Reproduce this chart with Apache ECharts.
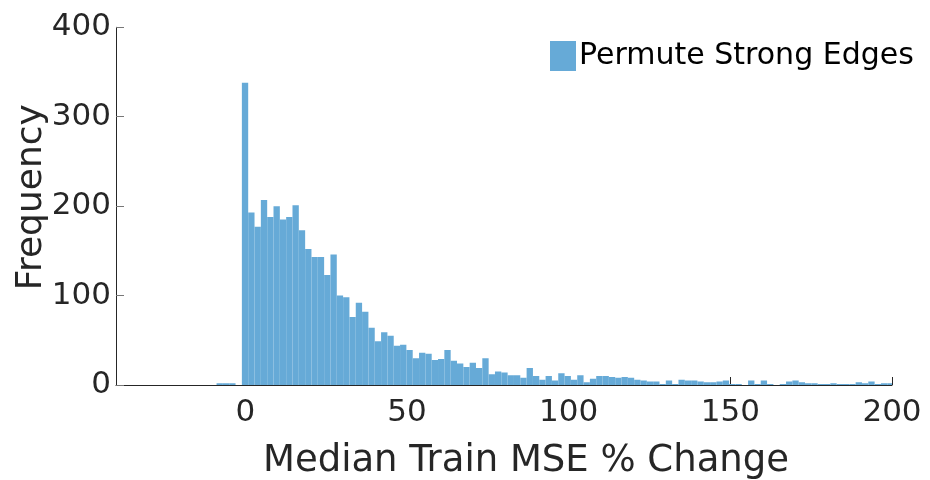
<!DOCTYPE html>
<html>
<head>
<meta charset="utf-8">
<script src="https://cdn.jsdelivr.net/npm/echarts@6/dist/echarts.min.js"></script>
<style>
html,body{margin:0;padding:0;background:#fff;}
#chart{width:930px;height:480px;}
</style>
</head>
<body>
<div id="chart"></div>
<script>
// Histogram bins: first left edge and bin width (in % change units)
const binStart = -8.9;
const binWidth = 1.957;
// Frequency per bin
const counts = [
  2, 2, 2, 0,
  338, 193, 177, 207, 188, 200, 185, 188, 201, 173, 152, 143, 143, 123, 146, 100, 98, 76, 92, 82, 64, 49,
  59, 55, 44, 45, 39, 30, 36, 35, 28, 29, 39, 27, 24, 20, 25, 19, 30, 12, 15, 14, 11, 11, 8, 19, 10,
  6, 10, 5, 13, 10, 6, 11, 3, 7, 10, 10, 9, 8, 9, 8, 6,
  5, 4, 4, 1, 5, 1, 6, 5, 5, 4, 3, 3, 4, 5,
  1, 1, 0, 5, 1, 5, 1, 0, 1, 4, 5, 3, 2, 2, 1, 1, 2, 1, 1, 1, 3, 2, 4, 1, 2, 2
];
const xTicks = [0, 50, 100, 150, 200];
const yTicks = [0, 100, 200, 300, 400];
const seriesName = 'Permute Strong Edges';
const xLabel = 'Median Train MSE % Change';
const yLabel = 'Frequency';

const xMin = -40, xMax = 200;
const barData = counts.map((c, i) => [binStart + i * binWidth, binStart + (i + 1) * binWidth, c]);

const chart = echarts.init(document.getElementById('chart'), null, {renderer: 'canvas'});
const axisColor = '#262626';
const font = 'DejaVu Sans';

chart.setOption({
  animation: false,
  backgroundColor: '#fff',
  grid: {left: 116, right: 38, top: 27.3, bottom: 95, containLabel: false, outerBoundsMode: 'none'},
  legend: {
    left: 550, top: 41, padding: 0,
    itemWidth: 26, itemHeight: 30, itemGap: 4,
    icon: 'rect',
    textStyle: {fontFamily: font, fontSize: 30, color: '#000', padding: [0, 0, 0, -2]},
    data: [seriesName]
  },
  xAxis: {
    type: 'value', min: xMin, max: xMax,
    name: xLabel, nameLocation: 'middle', nameGap: 58, nameMoveOverlap: false,
    nameTextStyle: {fontFamily: font, fontSize: 37, color: axisColor, padding: [0, 0, 0, 44]},
    axisLine: {show: true, onZero: false, lineStyle: {color: axisColor, width: 1}},
    axisTick: {show: true, inside: true, length: 8, customValues: xTicks, lineStyle: {color: axisColor}},
    axisLabel: {customValues: xTicks, fontFamily: font, fontSize: 31, color: axisColor, margin: 12},
    splitLine: {show: false}
  },
  yAxis: {
    type: 'value', min: 0, max: 400, interval: 100,
    name: yLabel, nameLocation: 'middle', nameGap: 66, nameMoveOverlap: false,
    nameTextStyle: {fontFamily: font, fontSize: 36, color: axisColor, padding: [0, 0, 0, 18]},
    axisLine: {show: true, onZero: false, lineStyle: {color: axisColor, width: 1}},
    axisTick: {show: true, inside: true, length: 8, customValues: yTicks, lineStyle: {color: '#777'}},
    axisLabel: {customValues: yTicks, fontFamily: font, fontSize: 31, color: axisColor, margin: 5},
    splitLine: {show: false}
  },
  series: [{
    name: seriesName,
    type: 'custom',
    clip: true,
    itemStyle: {color: '#66aad7'},
    encode: {x: [0, 1], y: 2},
    data: barData,
    z: 1,
    renderItem: function (params, api) {
      const x0 = Math.max(api.value(0), xMin);
      const x1 = Math.min(api.value(1), xMax);
      if (x1 <= x0) return null;
      const p0 = api.coord([x0, api.value(2)]);
      const p1 = api.coord([x1, 0]);
      return {
        type: 'rect',
        shape: {x: p0[0], y: p0[1], width: p1[0] - p0[0], height: p1[1] - p0[1]},
        style: {fill: '#66aad7'}
      };
    }
  }]
});
</script>
</body>
</html>
